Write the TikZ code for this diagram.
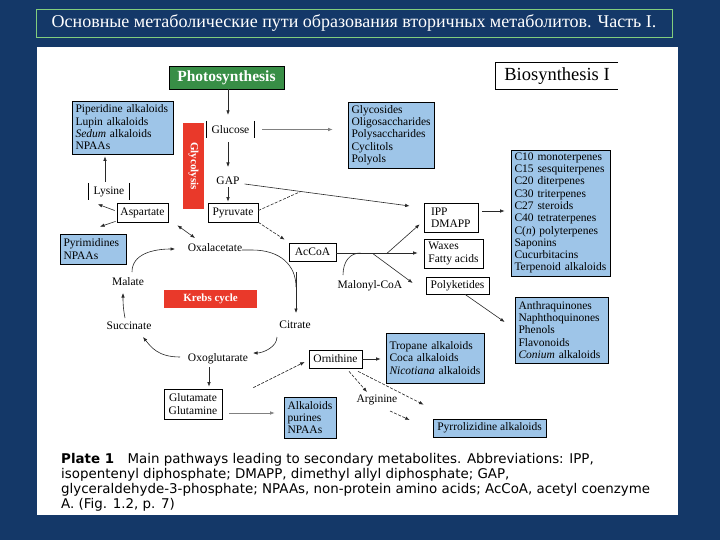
\documentclass[tikz,border=0pt]{standalone}
\usepackage{fontspec}
\setmainfont{Liberation Serif}
\newfontfamily\capfont{DejaVu Sans}
\usetikzlibrary{arrows.meta, calc}
\definecolor{slideblue}{RGB}{20, 56, 104}
\definecolor{titlegreen}{RGB}{130, 205, 125}
\definecolor{boxblue}{RGB}{158, 197, 232}
\definecolor{photogreen}{RGB}{56, 142, 70}
\definecolor{cyclered}{RGB}{233, 57, 42}
\definecolor{linegray}{RGB}{40, 40, 40}
\tikzset{
    every node/.style={font=\fontsize{11.5}{12.3}\selectfont, inner sep=0pt},
    arr/.style={draw=linegray, line width=.6pt, -{Latex[length=4.5pt, width=3.5pt]}},
    dasharr/.style={arr, dash pattern=on 3pt off 1.5pt},
    plainbox/.style={draw, line width=.7pt, fill=white},
    bluebox/.style={draw, line width=.7pt, fill=boxblue, align=left, inner xsep=3.5pt},
    redbox/.style={fill=cyclered, text=white, font=\fontsize{11}{12}\selectfont\bfseries},
}

\begin{document}
\begin{tikzpicture}[x=1pt, y=-1pt]
    \useasboundingbox (0, 0) rectangle (720, 540);
    \fill[slideblue] (0, 0) rectangle (720, 540);
    \node[draw=titlegreen, line width=.8pt, minimum width=636pt, minimum height=28pt,
        text=white, font=\fontsize{18}{19}\selectfont] (title) at (354, 23)
        {Основные метаболические пути образования вторичных метаболитов. Часть I.};
    \fill[white] (37, 47) rectangle (678, 515);

    % top of the pathway
    \node[fill=photogreen, draw=black, line width=.6pt, text=white,
        font=\fontsize{15.5}{16}\selectfont\bfseries, minimum width=115pt,
        minimum height=23pt] (photo) at (226.5, 77.5) {Photosynthesis};
    \node[font=\fontsize{18.5}{19}\selectfont, minimum width=122pt,
        minimum height=26pt] (biosyn) at (557, 76) {Biosynthesis I};
    \draw[line width=.7pt] (biosyn.north east) -- (biosyn.north west)
        -- (biosyn.south west) -- (biosyn.south east);
    \node[bluebox, text width=94pt, minimum height=53pt] (piper) at (122.5, 127.5)
        {Piperidine alkaloids\\Lupin alkaloids\\\textit{Sedum} alkaloids\\NPAAs};
    \node[redbox, rotate=-90, minimum width=86pt, minimum height=21pt] (glyco)
        at (193.5, 166) {Glycolysis};
    \node[minimum width=47pt, minimum height=17pt] (glucose) at (230.5, 129.5) {Glucose};
    \draw[line width=.7pt] (glucose.north west) -- (glucose.south west)
        (glucose.north east) -- (glucose.south east);
    \node[bluebox, text width=79pt, minimum height=66pt] (glycos) at (391, 135)
        {Glycosides\\Oligosaccharides\\Polysaccharides\\Cyclitols\\Polyols};
    \node (gap) at (228, 181) {GAP};
    \node[plainbox, minimum width=50pt, minimum height=19pt] (pyruvate) at (233, 212.5)
        {Pyruvate};
    \node[minimum width=40pt, minimum height=17pt] (lysine) at (109, 191.5) {Lysine};
    \draw[line width=.7pt] (lysine.north west) -- (lysine.south west)
        (lysine.north east) -- (lysine.south east);
    \node[plainbox, minimum width=51pt, minimum height=19pt] (aspartate)
        at (142.5, 212.5) {Aspartate};
    \node[bluebox, text width=59pt, minimum height=30pt] (pyrim) at (93, 249)
        {Pyrimidines\\NPAAs};

    % right hand products
    \node[plainbox, align=left, inner xsep=7pt, text width=40pt, minimum height=29pt]
        (ipp) at (451, 217.5) {IPP\\DMAPP};
    \node[bluebox, text width=92pt, minimum height=126pt] (terp) at (560.5, 213)
        {C10 monoterpenes\\C15 sesquiterpenes\\C20 diterpenes\\C30 triterpenes\\
        C27 steroids\\C40 tetraterpenes\\C(\textit{n}) polyterpenes\\Saponins\\
        Cucurbitacins\\Terpenoid alkaloids};
    \node[plainbox, minimum width=47pt, minimum height=18pt] (accoa) at (312.5, 252)
        {AcCoA};
    \node[plainbox, align=left, inner xsep=4pt, minimum width=59pt, minimum height=29pt]
        (waxes) at (453.5, 253.5) {Waxes\\Fatty acids};
    \node[plainbox, minimum width=63pt, minimum height=17pt] (polyk) at (457.5, 285.5)
        {Polyketides};
    \node (malonyl) at (370, 286) {Malonyl-CoA};
    \node[bluebox, text width=86pt, minimum height=66pt] (anthra) at (561.5, 330)
        {Anthraquinones\\Naphthoquinones\\Phenols\\Flavonoids\\\textit{Conium} alkaloids};

    % Krebs cycle
    \node (oxal) at (215, 248) {Oxalacetate};
    \node (malate) at (128, 282) {Malate};
    \node (succinate) at (129, 326) {Succinate};
    \node (citrate) at (295, 325) {Citrate};
    \node (oxoglut) at (218, 359) {Oxoglutarate};
    \node[redbox, minimum width=93pt, minimum height=18pt] (krebs) at (210.5, 299)
        {Krebs cycle};

    % amino acids
    \node[plainbox, align=center, minimum width=58pt, minimum height=30pt] (glutam)
        at (193, 404) {Glutamate\\Glutamine};
    \node[bluebox, text width=45pt, minimum height=41pt] (alkal) at (310, 417.5)
        {Alkaloids\\purines\\NPAAs};
    \node[plainbox, minimum width=53pt, minimum height=18pt] (ornith) at (335.5, 359)
        {Ornithine};
    \node[bluebox, text width=91pt, minimum height=50pt] (tropane) at (435, 358)
        {Tropane alkaloids\\Coca alkaloids\\\textit{Nicotiana} alkaloids};
    \node (arginine) at (377, 400) {Arginine};
    \node[draw, line width=.7pt, fill=boxblue, minimum width=113pt, minimum height=18pt]
        (pyrrol) at (489.5, 428) {Pyrrolizidine alkaloids};

    \node[anchor=north west, align=left, font=\capfont\fontsize{13.4}{15}\selectfont]
        (caption) at (61, 453) {\textbf{Plate 1}\quad Main pathways leading to secondary
        metabolites. Abbreviations: IPP,\\isopentenyl diphosphate; DMAPP, dimethyl allyl
        diphosphate; GAP,\\glyceraldehyde-3-phosphate; NPAAs, non-protein amino acids;
        AcCoA, acetyl coenzyme\\A. (Fig. 1.2, p. 7)};

    % glycolysis
    \draw[arr] (gap |- photo.south) -- ($(gap |- glucose.north)+(0, -6)$);
    \draw[arr, draw=gray] ($(glucose.east)+(8, 0)$) -- ($(glucose.east -| glycos.west)+(-15, 0)$);
    \draw[arr] ($(gap |- glucose.south)+(0, 4)$) -- ($(gap)+(0, -14)$);
    \draw[arr] ($(gap)+(0, 6)$) -- ($(gap |- pyruvate.north)+(0, -1)$);
    \coordinate (gapout) at ($(gap.east)+(5, 3)$);
    \coordinate (ippin) at ($(ipp.west)+(-14, -11.5)$);
    \coordinate (gapjoin) at ($(gapout)!.34!(ippin)$);
    \draw[arr] (gapout) -- (ippin);
    \draw[draw=linegray, line width=.6pt, dash pattern=on 3pt off 1.5pt]
        ($(pyruvate.east)+(0, -2)$) -- (gapjoin);
    \draw[dasharr] (pyruvate.south east) -- ($(accoa.north west)+(-4, -3)$);

    % aspartate branch
    \draw[arr] ($(aspartate.west)+(-2, -2)$) -- ($(lysine.south west)+(9, 4)$);
    \draw[arr] ($(lysine.north)+(-4, -1)$) -- ($(lysine.north |- piper.south)+(-4, 2)$);
    \draw[arr] ($(aspartate.south west)+(-1, -1)$) -- ($(pyrim.north)+(7, -7)$);
    \draw[{Latex[length=4.5pt, width=3.5pt]}-{Latex[length=4.5pt, width=3.5pt]},
        draw=linegray, line width=.6pt] ($(aspartate.south east)+(9, 3)$)
        -- ($(oxal)+(-20, -10)$);

    % Krebs cycle
    \draw[arr] ($(malate)+(4, -10)$) .. controls +(0, -18) and +(-22, 0)
        .. ($(oxal)+(-40, 1)$);
    \draw[arr] ($(succinate)+(-4, -8)$) .. controls +(-2, -10) and +(0, 8)
        .. ($(malate)+(-5, 11)$);
    \draw[arr] ($(oxoglut)+(-38, -2)$) .. controls +(-22, 0) and +(8, 10)
        .. ($(succinate)+(14, 11)$);
    \draw[arr] ($(citrate)+(-18, 12)$) .. controls +(0, 10) and +(10, 0)
        .. ($(oxoglut)+(35, -6)$);
    \coordinate (cjoin) at ($(citrate)+(1, -38)$);
    \draw[draw=linegray, line width=.6pt] ($(oxal)+(27, 2)$) -- ++(10, 0)
        .. controls +(28, 0) and +(0, -22) .. (cjoin);
    \draw[arr] ($(accoa.south -| citrate)+(1, 11)$) -- ($(citrate)+(1, -12)$);

    % acetyl coenzyme A
    \coordinate (malin) at ($(accoa.east)+(24, 1)$);
    \coordinate (polyout) at ($(accoa.east)+(37, 2)$);
    \coordinate (ippout) at ($(accoa.east)+(51, 1)$);
    \draw[arr] ($(accoa.east)+(0, 1)$) -- ($(accoa.east -| waxes.west)+(-6, 1)$);
    \draw[arr] (ippout) -- ($(ipp.south west)+(-4, -8)$);
    \draw[arr] (polyout) -- ($(polyk.west)+(-13, -2.5)$);
    \draw[draw=linegray, line width=.6pt] ($(malonyl)+(-27, -11)$)
        .. controls +(0, -14) and +(-10, 0) .. (malin);
    \draw[arr] ($(ipp.east)+(4, -6.5)$) -- ($(ipp.east -| terp.west)+(-6, -6.5)$);
    \draw[arr] ($(polyk.south)+(7.5, 0)$) -- ($(anthra.west)+(-10, -8)$);

    % glutamate and ornithine
    \draw[arr] ($(oxoglut)+(-9, 8)$) -- ($(oxoglut |- glutam.north)+(-9, -2)$);
    \draw[arr, draw=gray] ($(glutam.east)+(7, 9)$) -- ($(glutam.east -| alkal.west)+(-9, 9)$);
    \draw[dasharr] ($(glutam.north east)+(31, -1)$) -- ($(ornith.west)+(-4, 3)$);
    \draw[arr] (ornith.east) -- ($(ornith.east -| tropane.west)+(-5, 0)$);
    \draw[dasharr] ($(ornith.south)+(13.5, 3)$) -- ($(arginine)+(-10, -8)$);
    \draw[dasharr] ($(ornith.south)+(22.5, 3)$) -- ($(pyrrol.north west)+(-9, -14)$);
    \draw[dasharr] ($(arginine)+(13, 11)$) -- ($(pyrrol.west)+(-23, -8)$);
\end{tikzpicture}
\end{document}
